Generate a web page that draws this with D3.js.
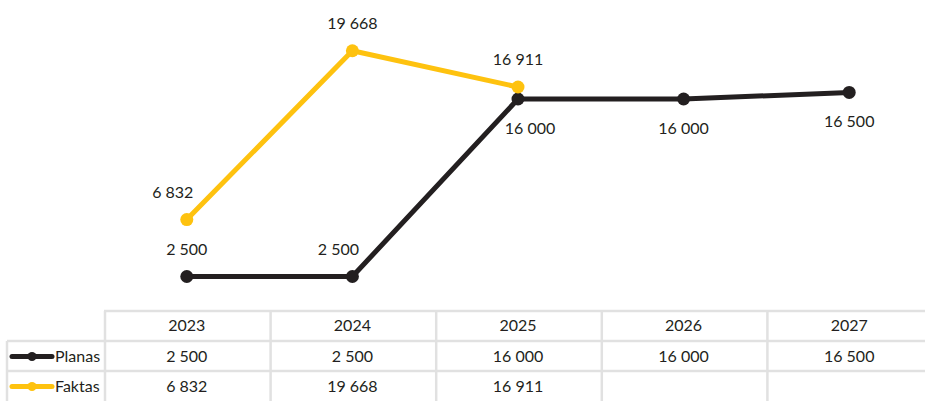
<!DOCTYPE html>
<html>
<head>
<meta charset="utf-8">
<script src="https://cdn.jsdelivr.net/npm/d3@7"></script>
<style>
  body { margin: 0; background: #fff; }
  text { font-family: Lato, "Open Sans", sans-serif; font-size: 16px; fill: #231f20; }
</style>
</head>
<body>
<div id="chart"></div>
<script>
// Data.
const years = ['2023', '2024', '2025', '2026', '2027'];
const planas = [2500, 2500, 16000, 16000, 16500];
const faktas = [6832, 19668, 16911, null, null];
const seriesNames = ['Planas', 'Faktas'];

const width = 925,
  height = 401;

const colors = { Planas: '#231f20', Faktas: '#fec20f' };
const gridColor = '#e1e1e1';

// Label offsets per point (which side, nudge left/right).
const labelPos = {
  Planas: [{ dy: -22, dx: 0 }, { dy: -22, dx: -14 }, { dy: 35, dx: 12 }, { dy: 35, dx: 0 }, { dy: 35, dx: 0 }],
  Faktas: [{ dy: -22, dx: -14 }, { dy: -22, dx: 0 }, { dy: -22, dx: 0 }],
};

const fmt = v => d3.format(',')(v).replace(/,/g, ' ');

const svg = d3
  .select('#chart')
  .append('svg')
  .attr('width', width)
  .attr('height', height);

const x = d3.scaleBand().domain(years).range([104, 932]).padding(0);
const y = d3.scaleLinear().domain([0, 20000]).range([309.4, 46.4]);
const cx = d => x(d) + x.bandwidth() / 2;

// Table grid.
const rowTop = 311,
  rowH = 30;
const grid = svg.append('g').attr('stroke', gridColor).attr('stroke-width', 2.5);
grid.append('line').attr('x1', x.range()[0]).attr('x2', width).attr('y1', rowTop).attr('y2', rowTop);
[1, 2].forEach(i => {
  grid.append('line').attr('x1', 7).attr('x2', width)
    .attr('y1', rowTop + i * rowH).attr('y2', rowTop + i * rowH);
});
grid.append('line').attr('x1', 7).attr('x2', 7).attr('y1', rowTop + rowH).attr('y2', height);
grid.selectAll('.vl')
  .data(years)
  .join('line')
  .attr('x1', d => x(d) + 1).attr('x2', d => x(d) + 1)
  .attr('y1', rowTop).attr('y2', height);

// Header row.
svg.selectAll('.yr')
  .data(years)
  .join('text')
  .attr('class', 'yr')
  .attr('text-anchor', 'middle')
  .attr('x', cx)
  .attr('y', rowTop + 20)
  .text(d => d);

// Data rows with legend.
const seriesData = { Planas: planas, Faktas: faktas };
seriesNames.forEach((name, i) => {
  const top = rowTop + (i + 1) * rowH;
  const my = top + 15.5;
  const leg = svg.append('g');
  leg.append('line')
    .attr('x1', 12).attr('x2', 52).attr('y1', my).attr('y2', my)
    .attr('stroke', colors[name]).attr('stroke-width', 5).attr('stroke-linecap', 'round');
  leg.append('circle').attr('cx', 32).attr('cy', my).attr('r', 4.5).attr('fill', colors[name]);
  leg.append('text').attr('x', 55).attr('y', top + 20.5).text(name);

  svg.selectAll('.cell' + i)
    .data(seriesData[name].map((v, j) => ({ v, yr: years[j] })).filter(d => d.v != null))
    .join('text')
    .attr('text-anchor', 'middle')
    .attr('x', d => cx(d.yr))
    .attr('y', top + 20.5)
    .text(d => fmt(d.v));
});

// Lines, dots and value labels.
const line = d3.line().x(d => cx(d.yr)).y(d => y(d.v));
seriesNames.forEach(name => {
  const pts = seriesData[name].map((v, j) => ({ v, yr: years[j], j })).filter(d => d.v != null);
  svg.append('path')
    .datum(pts)
    .attr('d', line)
    .attr('fill', 'none')
    .attr('stroke', colors[name])
    .attr('stroke-width', 5)
    .attr('stroke-linejoin', 'round');
  svg.append('g')
    .selectAll('circle')
    .data(pts)
    .join('circle')
    .attr('cx', d => cx(d.yr))
    .attr('cy', d => y(d.v))
    .attr('r', 6.5)
    .attr('fill', colors[name]);
  svg.append('g')
    .selectAll('text')
    .data(pts)
    .join('text')
    .attr('text-anchor', 'middle')
    .attr('x', d => cx(d.yr) + labelPos[name][d.j].dx)
    .attr('y', d => y(d.v) + labelPos[name][d.j].dy)
    .text(d => fmt(d.v));
});
</script>
</body>
</html>
